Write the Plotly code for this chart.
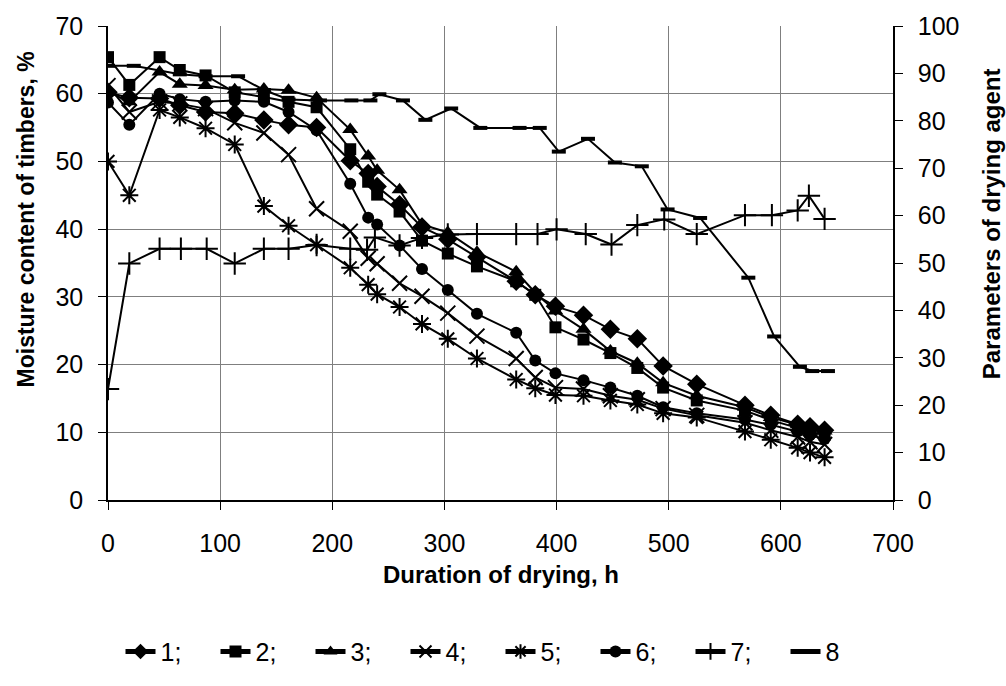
import plotly.graph_objects as go

# ---- data ----
t_main = [0, 19, 46, 64, 87, 113, 139, 161, 186, 216, 232, 240, 260, 280, 303, 329,
          364, 381, 399, 424, 448, 472, 495, 525, 568, 591, 615, 626, 639]
s1 = [60.2, 59.4, 59.3, 58.3, 57.3, 57.1, 56.1, 55.4, 55.0, 50.1, 48.2, 46.3, 43.6, 40.3, 38.5, 35.9,
      32.3, 30.3, 28.6, 27.3, 25.2, 23.8, 19.8, 17.1, 14.0, 12.5, 11.2, 10.8, 10.3]
s2 = [65.4, 61.3, 65.4, 63.5, 62.7, 60.2, 59.5, 58.8, 58.0, 51.8, 47.0, 45.1, 42.6, 38.3, 36.4, 34.5,
      32.3, 30.3, 25.5, 23.7, 21.7, 19.5, 16.6, 14.7, 13.2, 11.8, 10.6, 10.1, 9.6]
s3 = [60.3, 58.8, 63.2, 61.4, 61.2, 60.6, 60.7, 60.5, 59.4, 54.7, 50.8, 48.7, 45.8, 40.7, 39.5, 36.6,
      33.7, 30.6, 27.9, 25.2, 22.0, 20.2, 17.3, 15.4, 13.7, 12.2, 11.1, 10.6, 10.2]
s4 = [61.2, 57.3, 58.8, 58.5, 57.8, 55.7, 54.2, 51.0, 43.0, 39.7, 35.7, 34.9, 32.0, 30.1, 27.6, 24.2,
      20.9, 18.1, 16.6, 16.4, 15.4, 14.8, 13.5, 12.5, 11.4, 10.3, 9.3, 8.6, 8.2]
s5 = [50.0, 45.0, 57.6, 56.5, 54.9, 52.5, 43.4, 40.5, 37.7, 34.3, 31.8, 30.4, 28.5, 26.0, 23.8, 20.9,
      17.8, 16.5, 15.5, 15.4, 14.7, 14.1, 12.8, 12.2, 10.1, 8.9, 7.7, 7.0, 6.3]
s6 = [58.7, 55.4, 60.0, 59.2, 58.8, 59.0, 58.8, 57.3, 54.6, 46.7, 41.7, 40.7, 37.6, 34.1, 31.0, 27.5,
      24.7, 20.6, 18.7, 17.7, 16.6, 15.4, 13.7, 12.8, 11.9, 11.1, 10.1, 9.6, 9.0]

t7 = [0, 19, 46, 65, 88, 113, 139, 161, 186, 216, 231, 238, 260, 280, 303, 329,
      364, 383, 400, 426, 449, 472, 496, 525, 568, 592, 615, 625, 639]
s7 = [23.4, 49.9, 53.0, 53.0, 53.0, 49.9, 53.0, 53.0, 53.8, 53.0, 52.8, 55.4, 53.7, 55.3, 56.0, 56.1,
      56.1, 56.1, 57.1, 56.1, 53.9, 58.0, 59.2, 56.1, 60.1, 60.1, 61.1, 64.2, 59.3]

t8 = [0, 23, 64, 87, 116, 139, 161, 189, 217, 234, 242, 263, 283, 306, 332, 367,
      385, 402, 428, 452, 476, 499, 528, 571, 594, 617, 628, 642]
s8 = [91.6, 91.6, 89.8, 89.4, 89.4, 86.5, 84.5, 84.3, 84.3, 84.3, 85.6, 84.3, 80.2, 82.6, 78.5, 78.5,
      78.5, 73.5, 76.2, 71.2, 70.4, 61.3, 59.5, 46.9, 34.5, 28.1, 27.2, 27.2]

names = ["1;", "2;", "3;", "4;", "5;", "6;", "7;", "8"]
x_title = "Duration of drying, h"
y_title = "Moisture content of timbers, %"
y2_title = "Parameters of drying agent"

FONT = "Liberation Sans, Arial, sans-serif"
BLACK = "#000000"

fig = go.Figure()

main_series = [s1, s2, s3, s4, s5, s6]
symbols = ["diamond", "square", "triangle-up", "x-thin", "asterisk", "circle"]
sizes = [15, 12, 14, 15, 15, 12]
for name, ys, sym, sz in zip(names[:6], main_series, symbols, sizes):
    thin = sym in ("x-thin", "asterisk")
    fig.add_trace(go.Scatter(
        x=t_main, y=ys, name=name, mode="lines+markers",
        line=dict(color=BLACK, width=2),
        marker=dict(symbol=sym, size=sz, color=BLACK,
                    line=dict(color=BLACK, width=2 if thin else 0)),
    ))

fig.add_trace(go.Scatter(
    x=t7, y=s7, name=names[6], mode="lines+markers", yaxis="y2",
    line=dict(color=BLACK, width=2),
    marker=dict(symbol="cross-thin", size=16, color=BLACK, line=dict(color=BLACK, width=2)),
))
fig.add_trace(go.Scatter(
    x=t8, y=s8, name=names[7], mode="lines+markers", yaxis="y2",
    line=dict(color=BLACK, width=2),
    marker=dict(symbol="line-ew", size=10, color=BLACK, line=dict(color=BLACK, width=4)),
))

axis_common = dict(
    showline=True, linecolor=BLACK, linewidth=1.5,
    ticks="outside", ticklen=8, tickwidth=1, tickcolor=BLACK,
    tickfont=dict(family=FONT, size=25, color=BLACK),
    zeroline=False,
)

fig.update_layout(
    width=1006, height=686,
    margin=dict(l=108, r=113, t=22, b=179),
    paper_bgcolor="white", plot_bgcolor="white",
    font=dict(family=FONT, color=BLACK),
    xaxis=dict(range=[0, 700], dtick=100, showgrid=True, gridcolor="#7f7f7f", gridwidth=1,
               ticklabelstandoff=12, **axis_common),
    yaxis=dict(range=[0, 70], dtick=10, showgrid=True, gridcolor="#7f7f7f", gridwidth=1,
               ticklabelstandoff=10, **axis_common),
    yaxis2=dict(range=[0, 100], dtick=10, overlaying="y", side="right", showgrid=False,
                ticklabelstandoff=10, **axis_common),
    showlegend=True,
    legend=dict(orientation="h", x=0.5, xanchor="center", y=-0.32, yanchor="middle",
                font=dict(family=FONT, size=25, color=BLACK),
                entrywidth=50, entrywidthmode="pixels", itemsizing="constant",
                tracegroupgap=0, bgcolor="rgba(0,0,0,0)"),
    annotations=[
        dict(text="<b>" + x_title + "</b>", xref="paper", yref="paper", x=0.5, y=-0.157,
             xanchor="center", yanchor="middle", showarrow=False,
             font=dict(family=FONT, size=24, color=BLACK)),
        dict(text="<b>" + y_title + "</b>", xref="paper", yref="paper", x=-0.105, y=0.591,
             xanchor="center", yanchor="middle", showarrow=False, textangle=-90,
             font=dict(family=FONT, size=23, color=BLACK)),
        dict(text="<b>" + y2_title + "</b>", xref="paper", yref="paper", x=1.1256, y=0.583,
             xanchor="center", yanchor="middle", showarrow=False, textangle=-90,
             font=dict(family=FONT, size=24, color=BLACK)),
    ],
)

fig.write_html("out.html")
